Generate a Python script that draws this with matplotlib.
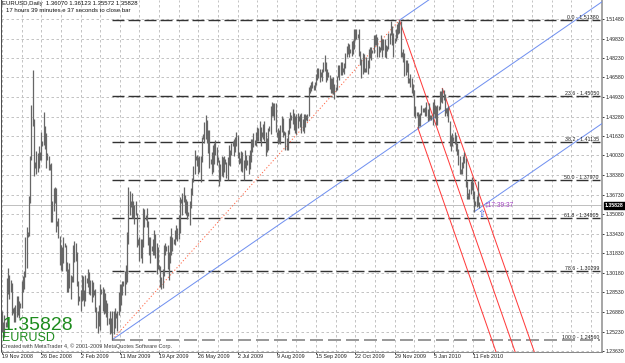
import matplotlib
matplotlib.use("Agg")
import matplotlib.pyplot as plt
import numpy as np

plt.rcParams['font.family'] = ['Liberation Sans', 'DejaVu Sans']
plt.rcParams['lines.scale_dashes'] = False

W, H, DPI = 625, 363, 100
PX = 72.0 / DPI  # points per pixel

symbol = "EURUSD"
header = "EURUSD,Daily  1.36070 1.36123 1.35572 1.35828"
countdown = "17 hours 39 minutes e 37 seconds to close bar"
last_price = 1.35828
timer_text = "17:39:37"
copyright_text = "Created with MetaTrader 4, \u00a9 2001-2009 MetaQuotes Software Corp."

date_labels = ["19 Nov 2008", "26 Dec 2008", "2 Feb 2009", "11 Mar 2009", "19 Apr 2009",
               "26 May 2009", "2 Jul 2009", "9 Aug 2009", "15 Sep 2009", "22 Oct 2009",
               "29 Nov 2009", "5 Jan 2010", "11 Feb 2010"]
label_step = 32
grid_step = 16
price_ticks = [1.51480, 1.49830, 1.48230, 1.46580, 1.44930, 1.43280, 1.41630, 1.40030,
               1.38380, 1.36730, 1.35080, 1.33430, 1.31830, 1.30180, 1.28530, 1.26880,
               1.25230, 1.23630]

# daily bars (Sun..Fri rows), high and low
high = [
    1.2700, 1.2600, 1.2660,
    1.2600, 1.2970, 1.3060, 1.3000, 1.2960, 1.2930,
    1.2720, 1.2730, 1.2750, 1.2820, 1.2820, 1.2780,
    1.2760, 1.2950, 1.2990, 1.3030, 1.3320, 1.3400,
    1.3360, 1.3660, 1.4000, 1.4430, 1.4719, 1.4310,
    1.3950, 1.4040, 1.4020, 1.4080, 1.4030, 1.4200,
    1.4120, 1.4370, 1.4250, 1.4190, 1.4020, 1.4000,
    1.3930, 1.3940, 1.3620, 1.3730, 1.3740, 1.3730,
    1.3450, 1.3480, 1.3330, 1.3250, 1.3230, 1.3320,
    1.3270, 1.3250, 1.3110, 1.3050, 1.3100, 1.3000,
    1.2990, 1.3250, 1.3280, 1.3270, 1.3190, 1.2950,
    1.2820, 1.2870, 1.3000, 1.2990, 1.2870, 1.3000,
    1.2970, 1.3050, 1.3020, 1.2960, 1.2960, 1.2940,
    1.2870, 1.2880, 1.2730, 1.2700, 1.2750, 1.2920,
    1.2880, 1.2900, 1.2880, 1.2850, 1.2790, 1.2760,
    1.2640, 1.2700, 1.2640, 1.2700, 1.2700, 1.2720,
    1.2680, 1.2700, 1.2860, 1.2920, 1.2920, 1.2950,
    1.2950, 1.3030, 1.3080, 1.3360, 1.3738, 1.3700,
    1.3620, 1.3690, 1.3620, 1.3590, 1.3620, 1.3520,
    1.3300, 1.3320, 1.3300, 1.3300, 1.3560, 1.3550,
    1.3500, 1.3560, 1.3450, 1.3320, 1.3320,
    1.3240, 1.3300, 1.3380, 1.3340, 1.3270, 1.3230,
    1.3080, 1.3070, 1.2980, 1.3050, 1.3250, 1.3270,
    1.3240, 1.3250, 1.3190, 1.3330, 1.3390, 1.3320,
    1.3300, 1.3380, 1.3420, 1.3390, 1.3500, 1.3650,
    1.3640, 1.3690, 1.3740, 1.3670, 1.3640, 1.3620,
    1.3530, 1.3620, 1.3730, 1.3810, 1.3910, 1.4050,
    1.4000, 1.4010, 1.3990, 1.4000, 1.4000, 1.4160,
    1.4180, 1.4280, 1.4338, 1.4300, 1.4220, 1.4220,
    1.3970, 1.4030, 1.4090, 1.4110, 1.4130, 1.4070,
    1.3990, 1.3960, 1.3930, 1.4000, 1.3990, 1.4000,
    1.3970, 1.3950, 1.3990, 1.4090, 1.4050, 1.4110,
    1.4120, 1.4140, 1.4160, 1.4200, 1.4170, 1.4030,
    1.3980, 1.4040, 1.4030, 1.3960, 1.4050, 1.4010,
    1.3960, 1.4010, 1.4050, 1.4140, 1.4140, 1.4190,
    1.4130, 1.4200, 1.4240, 1.4230, 1.4290, 1.4240,
    1.4200, 1.4270, 1.4290, 1.4200, 1.4150, 1.4230,
    1.4250, 1.4420, 1.4450, 1.4445, 1.4440, 1.4440,
    1.4200, 1.4230, 1.4220, 1.4260, 1.4330, 1.4320,
    1.4210, 1.4200, 1.4150, 1.4220, 1.4320, 1.4370,
    1.4340, 1.4390, 1.4360, 1.4330, 1.4350, 1.4360,
    1.4330, 1.4350, 1.4360, 1.4310, 1.4350, 1.4350,
    1.4340, 1.4350, 1.4580, 1.4590, 1.4620, 1.4630,
    1.4590, 1.4620, 1.4690, 1.4740, 1.4740, 1.4730,
    1.4700, 1.4730, 1.4790, 1.4843, 1.4790, 1.4730,
    1.4700, 1.4680, 1.4650, 1.4650, 1.4660, 1.4600,
    1.4580, 1.4670, 1.4760, 1.4760, 1.4790, 1.4790,
    1.4740, 1.4780, 1.4860, 1.4920, 1.4950, 1.4940,
    1.4900, 1.4960, 1.4970, 1.5060, 1.5060, 1.5060,
    1.5020, 1.5060, 1.4880, 1.4810, 1.4860, 1.4850,
    1.4740, 1.4830, 1.4800, 1.4900, 1.4910, 1.4910,
    1.4890, 1.5010, 1.5010, 1.5020, 1.5000, 1.4920,
    1.4910, 1.5010, 1.4980, 1.4980, 1.4980, 1.4930,
    1.4920, 1.5030, 1.5030, 1.5130, 1.5090, 1.5030,
    1.4990, 1.5060, 1.5110, 1.5120, 1.5138, 1.5130,
    1.4870, 1.4900, 1.4860, 1.4800, 1.4800, 1.4780,
    1.4650, 1.4690, 1.4650, 1.4600, 1.4550, 1.4420,
    1.4370, 1.4370, 1.4350, 1.4360, 1.4430, 1.4400,
    1.4400, 1.4410, 1.4450, 1.4390, 1.4440, 1.4340,
    1.4340, 1.4450, 1.4480, 1.4430, 1.4420, 1.4430,
    1.4420, 1.4540, 1.4540, 1.4565, 1.4550, 1.4520,
    1.4400, 1.4400, 1.4420, 1.4290, 1.4170, 1.4190,
    1.4160, 1.4200, 1.4170, 1.4110, 1.4060, 1.4000,
    1.3890, 1.3950, 1.4000, 1.4030, 1.3980, 1.3790,
    1.3690, 1.3720, 1.3790, 1.3820, 1.3780, 1.3700,
    1.3620, 1.3660, 1.3787, 1.36123,
]
low = [
    1.2520, 1.2470, 1.2480,
    1.2560, 1.2560, 1.2840, 1.2800, 1.2860, 1.2660,
    1.2680, 1.2600, 1.2600, 1.2650, 1.2660, 1.2640,
    1.2720, 1.2720, 1.2860, 1.2880, 1.2980, 1.3060,
    1.3320, 1.3330, 1.3600, 1.3960, 1.4250, 1.3830,
    1.3900, 1.3850, 1.3860, 1.3900, 1.3960, 1.3960,
    1.4080, 1.4090, 1.4060, 1.3900, 1.3960, 1.3880,
    1.3880, 1.3440, 1.3440, 1.3540, 1.3600, 1.3360,
    1.3410, 1.3310, 1.3080, 1.3040, 1.3030, 1.3100,
    1.3230, 1.3030, 1.2860, 1.2860, 1.2890, 1.2800,
    1.2940, 1.2940, 1.3110, 1.3120, 1.2910, 1.2750,
    1.2780, 1.2700, 1.2780, 1.2790, 1.2740, 1.2780,
    1.2930, 1.2900, 1.2840, 1.2830, 1.2770, 1.2810,
    1.2830, 1.2690, 1.2550, 1.2510, 1.2570, 1.2540,
    1.2840, 1.2700, 1.2670, 1.2680, 1.2650, 1.2580,
    1.2590, 1.2500, 1.2510, 1.2456, 1.2500, 1.2550,
    1.2640, 1.2530, 1.2660, 1.2700, 1.2750, 1.2830,
    1.2910, 1.2830, 1.2920, 1.2940, 1.3260, 1.3500,
    1.3570, 1.3480, 1.3480, 1.3430, 1.3500, 1.3230,
    1.3250, 1.3120, 1.3140, 1.3100, 1.3230, 1.3400,
    1.3460, 1.3400, 1.3250, 1.3170, 1.3100,
    1.3200, 1.3170, 1.3170, 1.3140, 1.3010, 1.3050,
    1.3040, 1.2900, 1.2880, 1.2887, 1.2990, 1.3170,
    1.3200, 1.3050, 1.2960, 1.3100, 1.3170, 1.3200,
    1.3260, 1.3250, 1.3300, 1.3280, 1.3300, 1.3350,
    1.3600, 1.3500, 1.3610, 1.3520, 1.3500, 1.3470,
    1.3490, 1.3420, 1.3560, 1.3670, 1.3780, 1.3850,
    1.3960, 1.3910, 1.3850, 1.3860, 1.3780, 1.3950,
    1.4140, 1.4110, 1.4140, 1.4110, 1.4020, 1.3900,
    1.3930, 1.3850, 1.3860, 1.3930, 1.4010, 1.3920,
    1.3950, 1.3750, 1.3790, 1.3830, 1.3820, 1.3860,
    1.3930, 1.3810, 1.3800, 1.3920, 1.3910, 1.4010,
    1.4080, 1.4000, 1.4030, 1.4080, 1.3980, 1.3930,
    1.3940, 1.3870, 1.3860, 1.3800, 1.3900, 1.3880,
    1.3920, 1.3850, 1.3890, 1.3950, 1.4030, 1.4070,
    1.4090, 1.4080, 1.4120, 1.4120, 1.4120, 1.4080,
    1.4160, 1.4140, 1.4120, 1.4000, 1.4030, 1.4050,
    1.4210, 1.4180, 1.4330, 1.4330, 1.4300, 1.4200,
    1.4160, 1.4100, 1.4110, 1.4100, 1.4200, 1.4160,
    1.4170, 1.4045, 1.4050, 1.4050, 1.4180, 1.4230,
    1.4300, 1.4270, 1.4220, 1.4190, 1.4180, 1.4230,
    1.4290, 1.4240, 1.4190, 1.4210, 1.4190, 1.4240,
    1.4300, 1.4290, 1.4330, 1.4530, 1.4540, 1.4570,
    1.4550, 1.4550, 1.4590, 1.4640, 1.4650, 1.4620,
    1.4660, 1.4630, 1.4700, 1.4710, 1.4620, 1.4640,
    1.4660, 1.4560, 1.4530, 1.4530, 1.4520, 1.4480,
    1.4540, 1.4550, 1.4660, 1.4640, 1.4680, 1.4680,
    1.4700, 1.4690, 1.4740, 1.4830, 1.4850, 1.4830,
    1.4860, 1.4840, 1.4850, 1.4900, 1.4970, 1.4980,
    1.4990, 1.4840, 1.4760, 1.4650, 1.4690, 1.4700,
    1.4700, 1.4700, 1.4690, 1.4740, 1.4820, 1.4800,
    1.4860, 1.4860, 1.4930, 1.4930, 1.4830, 1.4830,
    1.4870, 1.4890, 1.4830, 1.4890, 1.4830, 1.4820,
    1.4880, 1.4900, 1.4940, 1.5010, 1.4930, 1.4830,
    1.4950, 1.4960, 1.4990, 1.5020, 1.5030, 1.4830,
    1.4830, 1.4790, 1.4670, 1.4680, 1.4700, 1.4610,
    1.4610, 1.4580, 1.4530, 1.4500, 1.4330, 1.4320,
    1.4330, 1.4235, 1.4250, 1.4250, 1.4340, 1.4370,
    1.4370, 1.4330, 1.4330, 1.4290, 1.4300, 1.4310,
    1.4300, 1.4260, 1.4350, 1.4320, 1.4260, 1.4260,
    1.4380, 1.4390, 1.4450, 1.4440, 1.4470, 1.4330,
    1.4360, 1.4330, 1.4280, 1.4080, 1.4040, 1.4080,
    1.4120, 1.4100, 1.4040, 1.4010, 1.3920, 1.3850,
    1.3850, 1.3850, 1.3900, 1.3940, 1.3740, 1.3640,
    1.3640, 1.3640, 1.3680, 1.3710, 1.3640, 1.3530,
    1.3580, 1.3570, 1.3580, 1.35572,
]

fib_ratios = ["0.0", "23.6", "38.2", "50.0", "61.8", "78.6", "100.0"]
fib_prices = [1.51380, 1.45050, 1.41135, 1.37970, 1.34805, 1.30299, 1.24560]
fib_low_bar, fib_high_bar = 90, 324
pitchfork_bars = [324, 339, 359]          # handle (high), low, high
channel_base = [(90, 1.2456), (316, 1.4062)]
channel_high_bar, channel_low_bar = 324, 385

# ---------------------------------------------------------------- layout
bar_px = 1.2266
x0_px = 2.0
ax_left_px, ax_right_px, ax_bottom_px = 1.0, 602.0, 352.0
p_ref, y_ref, px_per_unit = 1.5148, 19.0, 1191.0


def y_of_px(yp):
    return p_ref - (yp - y_ref) / px_per_unit


fig = plt.figure(figsize=(W / DPI, H / DPI), dpi=DPI)
fig.patch.set_facecolor("white")
ax = fig.add_axes([ax_left_px / W, (H - ax_bottom_px) / H,
                   (ax_right_px - ax_left_px) / W, ax_bottom_px / H])
ax.set_facecolor("white")
xlim = ((ax_left_px - x0_px) / bar_px, (ax_right_px - x0_px) / bar_px)
ylim = (y_of_px(ax_bottom_px), y_of_px(0))
ax.set_xlim(*xlim)
ax.set_ylim(*ylim)

n = len(high)
idx = np.arange(n)
hi = np.array(high)
lo = np.array(low)

# grid
grid_kw = dict(color="#c4c4c4", lw=1 * PX, dashes=(2.5 * PX, 2.5 * PX), zorder=0)
for p in price_ticks:
    ax.axhline(p, **grid_kw)
for gx in range(0, int(xlim[1]) + 1, grid_step):
    ax.axvline(gx, **grid_kw)

# bid line
ax.axhline(last_price, color="#c0c0c0", lw=1 * PX, zorder=1)

# fibonacci levels
for r, p in zip(fib_ratios, fib_prices):
    if r == "100.0":
        ax.plot([fib_low_bar, xlim[1] - 1.5], [p, p], color="#9a9a9a", lw=2 * PX,
                dashes=(13 * PX, 5 * PX), zorder=2)
    else:
        ax.plot([fib_low_bar, xlim[1] - 1.5], [p, p], color="#333333", lw=1.4 * PX,
                dashes=(12 * PX, 4 * PX), zorder=2)
    ax.annotate(f"{r} - {p:.5f}", xy=(xlim[1] - 2.5, p), xycoords="data",
                ha="right", va="bottom", fontsize=3.8, color="#202020", zorder=6)

# fibo trend line
ax.plot([fib_low_bar, fib_high_bar], [lo[fib_low_bar], hi[fib_high_bar]],
        color="#ff6a4a", lw=1 * PX, dashes=(1.2 * PX, 2 * PX), zorder=3)

# channel (blue)
(cb1x, cb1y), (cb2x, cb2y) = channel_base
slope_c = (cb2y - cb1y) / (cb2x - cb1x)
xe = xlim[1] + 5
blue = "#7090f0"
ax.plot([cb1x, xe], [cb1y, cb1y + slope_c * (xe - cb1x)], color=blue, lw=1 * PX, zorder=3)
ph = hi[channel_high_bar]
ax.plot([channel_high_bar, xe], [ph, ph + slope_c * (xe - channel_high_bar)], color=blue,
        lw=1 * PX, zorder=3)
pl = lo[channel_low_bar]
ax.plot([channel_low_bar, xe], [pl, pl + slope_c * (xe - channel_low_bar)], color=blue,
        lw=1 * PX, zorder=3)

# Andrews pitchfork (red)
b1, b2, b3 = pitchfork_bars
p1, p2, p3 = hi[b1], lo[b2], hi[b3]
mx, my = (b2 + b3) / 2.0, (p2 + p3) / 2.0
slope_p = (my - p1) / (mx - b1)
red = "#ff3a3a"
for bx, py in [(b1, p1), (b2, p2), (b3, p3)]:
    ax.plot([bx, bx + 200], [py, py + slope_p * 200], color=red, lw=1 * PX, zorder=3)

# bars
ax.vlines(idx, lo, hi, colors="#666666", lw=1.25 * PX, zorder=4)

# timer label and arrow
ax.text(n - 1 + 4.3, last_price + 0.0002, "\u2021" + timer_text, fontsize=4.8,
        color="#a040c0", ha="left", va="center", zorder=6)
ax.text(n - 1 + 2.2, lo[-1] - 0.0048, "\u21e7", fontsize=7, color="#3a5de0",
        ha="center", va="center", zorder=6, family="DejaVu Sans")

# axes styling
for s in ["top"]:
    ax.spines[s].set_visible(False)
ax.spines["left"].set_color("#505050")
ax.spines["right"].set_color("#8a8a8a")
ax.spines["bottom"].set_color("#8a8a8a")
ax.spines["left"].set_linewidth(1 * PX)
ax.spines["right"].set_linewidth(1.5 * PX)
ax.spines["bottom"].set_linewidth(1 * PX)

ax.yaxis.tick_right()
ax.set_yticks(price_ticks)
ax.set_yticklabels([f"{p:.5f}" for p in price_ticks])
ax.tick_params(axis="y", length=2 * PX * 1.0, width=1 * PX, pad=1.0, labelsize=3.7,
               color="#404040", labelcolor="#202020")

xt = [i * label_step for i in range(len(date_labels))]
ax.set_xticks(xt)
ax.set_xticklabels(date_labels, ha="left")
ax.tick_params(axis="x", length=2 * PX, width=1 * PX, pad=0.3, labelsize=3.9,
               color="#404040", labelcolor="#202020")

# current price box on the scale
ax.annotate(f"{last_price:.5f}", xy=(1.0, last_price), xycoords=("axes fraction", "data"),
            xytext=(2.2, 0), textcoords="offset points", ha="left", va="center",
            fontsize=3.7, color="white", fontweight="bold",
            bbox=dict(boxstyle="square,pad=0.25", fc="black", ec="black"), zorder=10,
            annotation_clip=False)

# texts
fig.text(2 / W, 1 - 1.5 / H, header, fontsize=4.3, ha="left", va="top", color="#101010")
fig.text(6 / W, 1 - 8 / H, countdown, fontsize=4.3, ha="left", va="top", color="#101010")
fig.text(3 / W, 1 - 329.5 / H, f"{last_price:.5f}", fontsize=14, ha="left",
         va="baseline", color="#1e8c1e", zorder=20)
fig.text(2 / W, 1 - 341 / H, symbol, fontsize=9, ha="left", va="baseline",
         color="#1e8c1e", zorder=20)
fig.text(2 / W, 1 - 348 / H, copyright_text, fontsize=4.0, ha="left", va="baseline",
         color="#404040", zorder=19)

fig.savefig("out.png", dpi=DPI, facecolor="white")
